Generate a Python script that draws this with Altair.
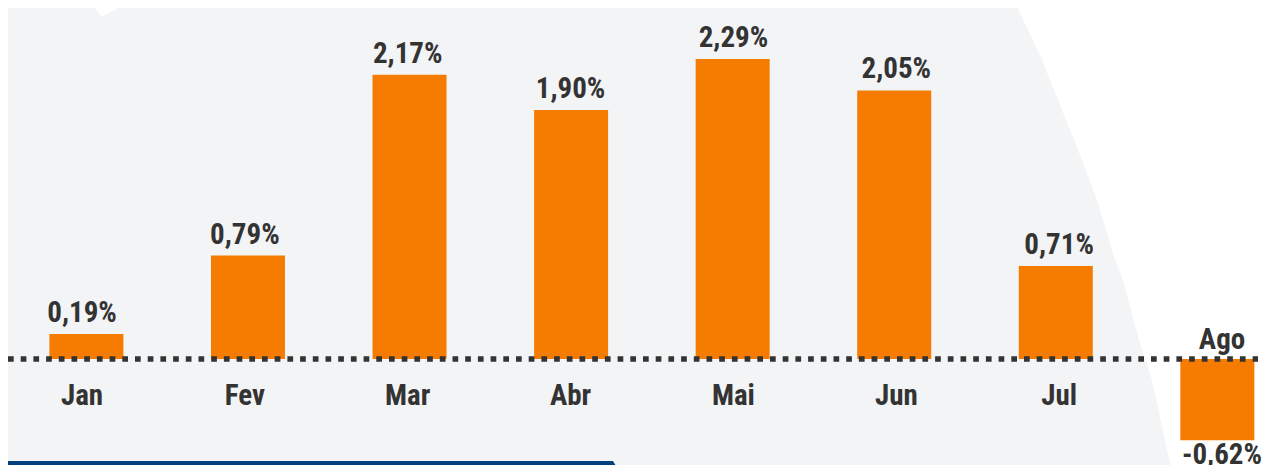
import altair as alt
import pandas as pd

# ---- data ----
months = ["Jan", "Fev", "Mar", "Abr", "Mai", "Jun", "Jul", "Ago"]
values = [0.19, 0.79, 2.17, 1.90, 2.29, 2.05, 0.71, -0.62]
value_labels = ["0,19%", "0,79%", "2,17%", "1,90%", "2,29%", "2,05%", "0,71%", "-0,62%"]

# ---- decorative background shapes (page pixel coordinates) ----
curve_y = [0, 60, 100, 160, 200, 260, 280, 340, 380, 473]
curve_x = [1014, 1042, 1058, 1082, 1097, 1115, 1123, 1139, 1152, 1172]
tri_y = [0, 17]
tri_left = [88, 102]
tri_right = [132, 102]
band_y = [461, 473]
band_left = [0, 0]
band_right = [613, 620]

W, H = 1256, 457
FONT = "Liberation Sans Narrow, Arial Narrow, Roboto Condensed, Liberation Sans, sans-serif"
TXT = "#333333"
ORANGE = "#f57c00"
BG = "#f3f4f6"

df = pd.DataFrame({
    "idx": list(range(len(months))),
    "month": months,
    "value": values,
    "label": value_labels,
    "zero": [0] * len(months),
})

PX_PER_UNIT = 131.0
ZERO_Y = 351.0
xs = alt.Scale(domain=[-0.4544, 7.2578], nice=False, zero=False)
ys = alt.Scale(domain=[-(H - ZERO_Y) / PX_PER_UNIT, ZERO_Y / PX_PER_UNIT], nice=False, zero=False)
dxs = alt.Scale(domain=[8, 8 + W], nice=False, zero=False)
dys = alt.Scale(domain=[8, 8 + H], nice=False, zero=False, reverse=True)

curve_df = pd.DataFrame({"py": curve_y, "pl": curve_x, "pr": [1272] * len(curve_x)})
tri_df = pd.DataFrame({"py": tri_y, "pl": tri_left, "pr": tri_right})
band_df = pd.DataFrame({"py": band_y, "pl": band_left, "pr": band_right})


def shape(d, color):
    return alt.Chart(d).mark_area(
        orient="horizontal", color=color, interpolate="linear", clip=True
    ).encode(
        y=alt.Y("py:Q", scale=dys, axis=None),
        x=alt.X("pl:Q", scale=dxs, axis=None),
        x2="pr:Q",
    )


white_right = shape(curve_df, "#ffffff")
triangle = shape(tri_df, "#ffffff")
band = shape(band_df, "#013f7e")

base = alt.Chart(df)
X = alt.X("idx:Q", scale=xs, axis=None)

bars = base.mark_bar(orient="vertical", size=74, color=ORANGE).encode(
    x=X, y=alt.Y("value:Q", scale=ys, axis=None), y2="zero:Q"
)

zero_line = base.transform_filter("datum.idx == 0").mark_rule(
    color=TXT, strokeWidth=5.5, strokeDash=[5.7, 7.0]
).encode(
    y=alt.Y("zero:Q", scale=ys, axis=None), x=alt.value(0), x2=alt.value(1250)
)

txt = dict(font=FONT, fontSize=29, fontWeight="bold", color=TXT, align="center")

pos_vals = base.transform_filter("datum.value >= 0").mark_text(
    baseline="alphabetic", dy=-12, **txt
).encode(x=X, y=alt.Y("value:Q", scale=ys, axis=None), text="label:N")

neg_vals = base.transform_filter("datum.value < 0").mark_text(
    baseline="top", dy=1, **txt
).encode(x=X, y=alt.Y("value:Q", scale=ys, axis=None), text="label:N")

pos_months = base.transform_filter("datum.value >= 0").mark_text(
    baseline="alphabetic", dy=46, **txt
).encode(x=X, y=alt.Y("zero:Q", scale=ys, axis=None), text="month:N")

neg_months = base.transform_filter("datum.value < 0").mark_text(
    baseline="alphabetic", dy=-10, **txt
).encode(x=X, y=alt.Y("zero:Q", scale=ys, axis=None), text="month:N")

chart = alt.layer(
    white_right, triangle, band, bars, zero_line, pos_vals, neg_vals, pos_months, neg_months
).resolve_scale(
    x="independent", y="independent"
).properties(
    width=W, height=H, padding=0, background=BG,
    autosize=alt.AutoSizeParams(type="none"),
).configure_view(
    strokeWidth=0, fill=BG
)

chart.save("out.html", embed_options={"renderer": "svg", "actions": False})
